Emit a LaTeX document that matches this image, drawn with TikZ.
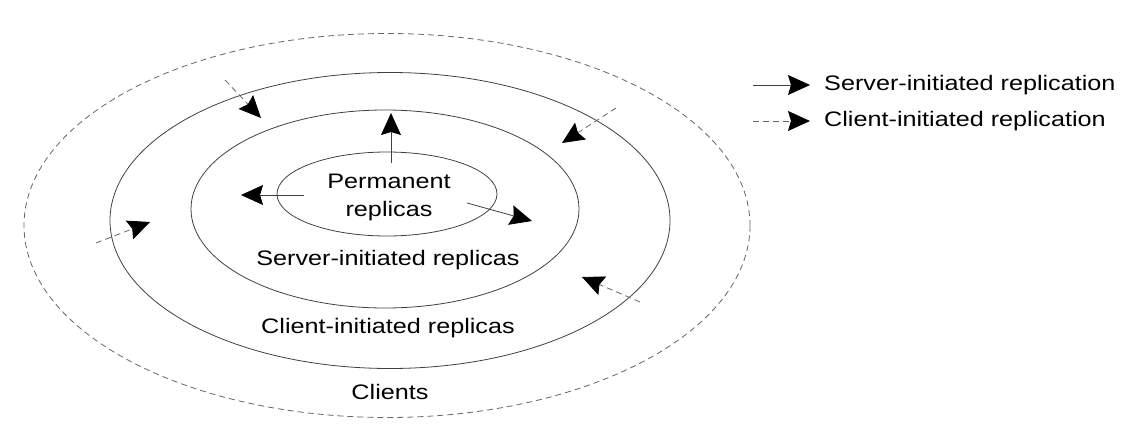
\documentclass[tikz,border=0pt]{standalone}
\usepackage{fontspec}
\setmainfont{Liberation Sans}[FakeStretch=1.2]
\usetikzlibrary{arrows.meta}

\begin{document}
\begin{tikzpicture}[
			x=1pt, y=-1pt,
			ring/.style={draw=black!75, line width=0.8pt},
			dashring/.style={ring, draw=black!60, dash pattern=on 6pt off 4pt},
			lbl/.style={font=\fontsize{21}{28}\selectfont, align=center, inner sep=0},
			legend/.style={lbl, anchor=west},
			srv/.style={->, draw=black!75, line width=0.8pt},
			cli/.style={srv, draw=black!60, dash pattern=on 6pt off 4pt},
			>={Stealth[length=22pt, width=20pt, inset=3pt, color=black, fill=black]}]
	
		\useasboundingbox (0,0) rectangle (1130,439);
	
		% replica rings
		\draw[dashring] (387,225.5) ellipse [x radius=363, y radius=192];
		\draw[ring] (390,220.5) ellipse [x radius=280, y radius=148];
		\draw[ring] (385,209) ellipse [x radius=194, y radius=99];
		\draw[ring] (387,194) ellipse [x radius=110, y radius=42];
	
		\node[lbl](permanent) at (389,197) {Permanent\\replicas};
		\node[lbl](server) at (388,260) {Server-initiated replicas};
		\node[lbl](client) at (388,328) {Client-initiated replicas};
		\node[lbl](clients) at (390,392) {Clients};
	
		% server-initiated
		\coordinate (s1) at (391,163); \coordinate (s1e) at (391,113);
		\coordinate (s2) at (304,195); \coordinate (s2e) at (241,195);
		\coordinate (s3) at (467,203); \coordinate (s3e) at (532,221);
		\draw[srv] (s1) -- (s1e);
		\draw[srv] (s2) -- (s2e);
		\draw[srv] (s3) -- (s3e);
	
		% client-initiated
		\coordinate (c1) at (225,80); \coordinate (c1e) at (261,118);
		\coordinate (c2) at (616,108); \coordinate (c2e) at (562,143);
		\coordinate (c3) at (96,243); \coordinate (c3e) at (150,222);
		\coordinate (c4) at (640,302); \coordinate (c4e) at (582,277);
		\draw[cli] (c1) -- (c1e);
		\draw[cli] (c2) -- (c2e);
		\draw[cli] (c3) -- (c3e);
		\draw[cli] (c4) -- (c4e);
	
		% legend
		\node[legend](srvtext) at (824,85) {Server-initiated replication};
		\node[legend](clitext) at (824,121) {Client-initiated replication};
		\coordinate (l1) at (753,85); \coordinate (l1e) at (810,85);
		\coordinate (l2) at (753,121); \coordinate (l2e) at (810,121);
		\draw[srv] (l1) -- (l1e);
		\draw[cli] (l2) -- (l2e);
	\end{tikzpicture}
\end{document}
